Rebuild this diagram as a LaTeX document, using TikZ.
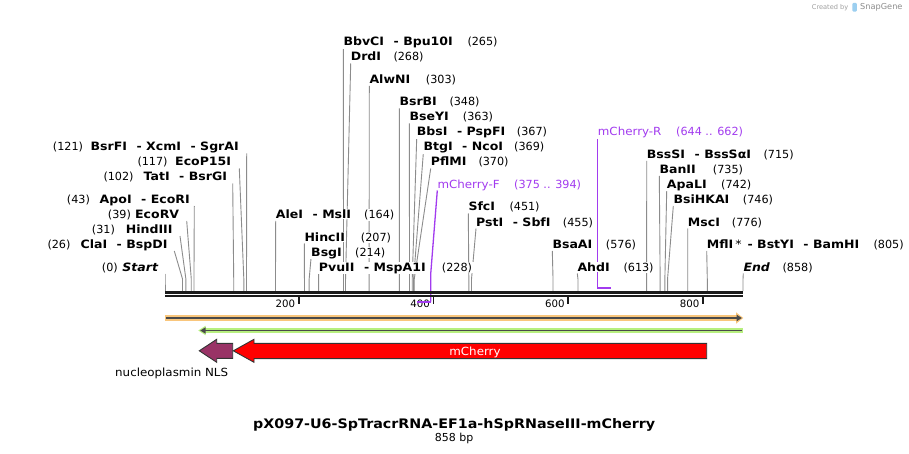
\documentclass[tikz,border=0pt]{standalone}
\usepackage{fontspec}
\setmainfont{DejaVu Sans}
\newfontfamily\lblfont{DejaVu Sans}[FakeStretch=1.09]
\newfontfamily\regfont{DejaVu Sans}[FakeStretch=1.06]
\pgfdeclarelayer{bg}
\pgfsetlayers{bg,main}
\definecolor{cutgray}{HTML}{8C8C8C}
\definecolor{primer}{HTML}{A23BEF}
\definecolor{orghalo}{HTML}{F9C67C}
\definecolor{grnhalo}{HTML}{B7EF7F}
\definecolor{dkline}{HTML}{4A4A4A}
\definecolor{nlscol}{HTML}{993366}
\definecolor{featedge}{HTML}{333333}
\definecolor{bbcol}{HTML}{1A1A1A}
\definecolor{snapblue}{HTML}{9CCFF0}
\newcommand\dsh{\hspace{9.5pt}-\hspace{4.5pt}}
\tikzset{
  nm/.style={font={\lblfont\bfseries\fontsize{11.5}{13}\selectfont}, fill=white, inner xsep=1.5pt, inner ysep=0.6pt, text=black},
  nb/.style={font={\fontsize{11.2}{13}\selectfont}, fill=white, inner xsep=1.5pt, inner ysep=0.6pt, text=black},
  pl/.style={font={\regfont\fontsize{11.2}{13}\selectfont}, fill=white, inner xsep=1.5pt, inner ysep=0.6pt, text=primer},
  pn/.style={font={\fontsize{11.2}{13}\selectfont}, fill=white, inner xsep=1.5pt, inner ysep=0.6pt, text=primer},
  cut/.style={draw=cutgray, line width=0.9pt},
  prim/.style={draw=primer, line width=1.3pt},
  tick/.style={draw=bbcol, line width=1.6pt},
  tl/.style={font={\fontsize{10.2}{12}\selectfont}, inner sep=0pt, text=black},
  feat/.style={draw=featedge, line width=0.9pt, line join=miter},
}
% right-hand label: id, name, number, x name, x number, baseline, bp
\newcommand\rsite[7]{%
  \coordinate (#1t) at (#4,{#6+2.5});
  \coordinate (#1s) at ({165+#7*0.67366},279);
  \coordinate (#1e) at ({165+#7*0.67366},291);
  \node[nm,anchor=base west] (#1) at ({#4-1.5},#6) {#2};
  \node[nb,anchor=base west] (#1n) at ({#5-1.5},#6) {(#3)};
  \begin{pgfonlayer}{bg}\draw[cut] (#1t) -- (#1s) -- (#1e);\end{pgfonlayer}
}
% left-hand label: id, name, number, x number, x name end, x line, baseline, bp
\newcommand\lsite[8]{%
  \coordinate (#1t) at (#6,{#7+2.5});
  \coordinate (#1s) at ({165+#8*0.67366},279);
  \coordinate (#1e) at ({165+#8*0.67366},291);
  \node[nm,anchor=base east] (#1) at ({#5+1.5},#7) {#2};
  \node[nb,anchor=base west] (#1n) at ({#4-1.5},#7) {(#3)};
  \begin{pgfonlayer}{bg}\draw[cut] (#1t) -- (#1s) -- (#1e);\end{pgfonlayer}
}
\begin{document}
\begin{tikzpicture}[x=1pt,y=-1pt]
\useasboundingbox (0,0) rectangle (909,454);
\begin{pgfonlayer}{bg}
\fill[white] (0,0) rectangle (909,454);
\end{pgfonlayer}

% left labels
\lsite{bsrfi}{BsrFI\dsh XcmI\dsh SgrAI}{121}{52.7}{239}{246.7}{151}{121}
\lsite{ecop}{EcoP15I}{117}{137.3}{231.3}{239.3}{166}{117}
\lsite{tati}{TatI\dsh BsrGI}{102}{103.3}{227.3}{232.7}{181}{102}
\lsite{apoi}{ApoI\dsh EcoRI}{43}{66.7}{190}{194.3}{203.5}{43}
\lsite{ecorv}{EcoRV}{39}{107.7}{179.3}{186.7}{218.5}{39}
\lsite{hind}{HindIII}{31}{91.7}{172.7}{180}{233.5}{31}
\lsite{clai}{ClaI\dsh BspDI}{26}{47.3}{167.7}{174.3}{248.5}{26}
\lsite{startl}{\itshape Start}{0}{101.7}{158.3}{165}{271}{0}

% right labels
\rsite{bbvci}{BbvCI\dsh Bpu10I}{265}{343.3}{467.3}{46}{265}
\rsite{drdi}{DrdI}{268}{350.7}{393.3}{61}{268}
\rsite{alwni}{AlwNI}{303}{369.3}{425.7}{83.5}{303}
\rsite{bsrbi}{BsrBI}{348}{399.3}{449.3}{106}{348}
\rsite{bseyi}{BseYI}{363}{409.3}{462.7}{121}{363}
\rsite{bbsi}{BbsI\dsh PspFI}{367}{416.7}{516.7}{136}{367}
\rsite{btgi}{BtgI\dsh NcoI}{369}{423.3}{514}{151}{369}
\rsite{pflmi}{PflMI}{370}{430.7}{478.3}{166}{370}
\rsite{alei}{AleI\dsh MslI}{164}{275.7}{364}{218.5}{164}
\rsite{hincii}{HincII}{207}{304.3}{360.7}{241}{207}
\rsite{bsgi}{BsgI}{214}{311}{355}{256}{214}
\rsite{pvuii}{PvuII\dsh MspA1I}{228}{318.7}{441.7}{271}{228}
\rsite{sfci}{SfcI}{451}{468.3}{509.3}{211}{451}
\rsite{psti}{PstI\dsh SbfI}{455}{476}{562.7}{226}{455}
\rsite{bsaai}{BsaAI}{576}{552.3}{605.7}{248.5}{576}
\rsite{ahdi}{AhdI}{613}{577.3}{623.3}{271}{613}
\rsite{bsssi}{BssSI\dsh BssSαI}{715}{646.7}{763.3}{158.5}{715}
\rsite{banii}{BanII}{735}{659.3}{712.7}{173.5}{735}
\rsite{apali}{ApaLI}{742}{666.7}{721}{188.5}{742}
\rsite{bsihk}{BsiHKAI}{746}{673.3}{742.7}{203.5}{746}
\rsite{msci}{MscI}{776}{687.7}{731.7}{226}{776}
\rsite{mfli}{MflI\,{\mdseries*}\hspace{6pt}-\hspace{4.5pt}BstYI\dsh BamHI}{805}{706.7}{873.3}{248.5}{805}
\rsite{endl}{\itshape End}{858}{743.3}{782.3}{271}{858}

% primers
\node[pl,anchor=base west] (pf) at (435.8,188.5) {mCherry-F};
\node[pn,anchor=base west] (pfn) at (512.5,188.5) {(375 .. 394)};
\node[pl,anchor=base west] (pr) at (596.2,136) {mCherry-R};
\node[pn,anchor=base west] (prn) at (674.5,136) {(644 .. 662)};
\coordinate (pfT) at (437.3,190.5);
\coordinate (pfB) at (430.7,274);
\coordinate (pfC) at (430.7,301.5);
\coordinate (pfL) at (417.3,301.5);
\coordinate (prT) at (597.7,138.5);
\coordinate (prC) at (597.7,287.7);
\coordinate (prR) at (611,287.7);
\begin{pgfonlayer}{bg}
\draw[prim] (prT) -- (prC);
\draw[prim, line width=2pt] ([xshift=-0.65pt]prC) -- (prR);
\end{pgfonlayer}

% tick labels
\foreach \t/\xx in {200/298.7,400/433.5,600/568.2,800/703}{
  \node[tl,anchor=base east] (tk\t) at ({\xx-3.5},307.3) {\t};
}

% primer F drawn over the tick label
\draw[prim] (pfT) -- (pfB) -- (pfC);
\draw[prim, line width=2pt] ([xshift=0.65pt]pfC) -- (pfL);

% backbone
\draw[bbcol, line width=2.4pt] (165,292.5) -- (743.3,292.5);
\draw[bbcol, line width=2pt] (165,296.3) -- (743.3,296.3);
\foreach \t/\xx in {200/298.7,400/433.5,600/568.2,800/703}{
  \draw[tick] (\xx,296.5) -- (\xx,304.3);
}

% orange forward feature
\fill[orghalo] (165,315.3) rectangle (737,320.7);
\fill[orghalo] (736,312.3) -- (743.3,318) -- (736,323.7) -- cycle;
\draw[dkline, line width=1.7pt] (166,318) -- (737.5,318);
\fill[dkline] (736.5,314.6) -- (741.8,318) -- (736.5,321.4) -- cycle;

% green reverse feature
\fill[grnhalo] (204.5,327.7) rectangle (743.3,333.3);
\fill[grnhalo] (205.5,325.8) -- (198.3,330.5) -- (205.5,335.2) -- cycle;
\draw[dkline, line width=1.7pt] (204,330.5) -- (742.3,330.5);
\fill[dkline] (205.5,327.3) -- (200.3,330.5) -- (205.5,333.7) -- cycle;

% feature arrows
\draw[feat, fill=nlscol] (199.3,350.8) -- (216.7,339.3) -- (216.7,343.3) -- (232.7,343.3) -- (232.7,358.4) -- (216.7,358.4) -- (216.7,362.3) -- cycle;
\draw[feat, fill=red] (233.3,350.8) -- (254,339.3) -- (254,343.3) -- (706.7,343.3) -- (706.7,358.6) -- (254,358.6) -- (254,362.3) -- cycle;
\node[font={\regfont\fontsize{11.2}{13}\selectfont}, text=white, anchor=base, inner sep=0pt] (mchl) at (475,355.2) {mCherry};
\node[font={\regfont\fontsize{11.2}{13}\selectfont}, text=black, anchor=base west, inner sep=0pt] (nlsl) at (115,376) {nucleoplasmin NLS};

% title
\node[font={\lblfont\bfseries\fontsize{13.1}{15}\selectfont}, anchor=base, inner sep=0pt] (title) at (454.2,428) {pX097-U6-SpTracrRNA-EF1a-hSpRNaseIII-mCherry};
\node[font={\fontsize{11}{13}\selectfont}, anchor=base, inner sep=0pt] (bpl) at (454.2,441.8) {858 bp};

% watermark
\node[font={\fontsize{6.6}{8}\selectfont}, text=black!38, inner sep=0pt, anchor=base west] (cr) at (811.7,9.7) {Created by};
\fill[snapblue, rounded corners=1.2pt] (852.3,2.8) rectangle (856.8,11.7);
\node[font={\fontsize{8.2}{10}\selectfont}, text=black!45, inner sep=0pt, anchor=base west] (sg) at (860,10) {SnapGene};
\end{tikzpicture}
\end{document}
